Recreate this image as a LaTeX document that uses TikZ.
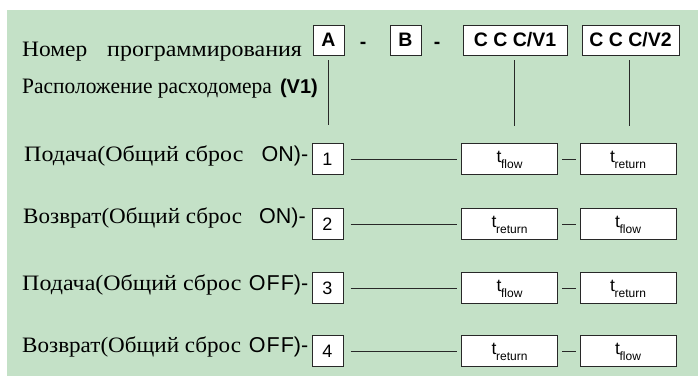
\documentclass[tikz,border=0pt]{standalone}
\usepackage{fontspec}
\setmainfont{Liberation Serif}
\newfontfamily\arial{Liberation Sans}
\definecolor{bggreen}{RGB}{196,225,199}
\definecolor{linegray}{RGB}{40,40,40}
\tikzset{
  serif/.style={inner sep=0pt, anchor=base west, font=\fontsize{22}{22}\selectfont},
  sans/.style={inner sep=0pt, anchor=base east, font=\arial\fontsize{21.5}{21.5}\selectfont},
  hbox/.style={draw=linegray, line width=1pt, fill=white, inner sep=0pt, minimum height=30pt, minimum width=31pt, font=\arial\bfseries\fontsize{19.5}{19.5}\selectfont},
  numbox/.style={draw=linegray, line width=1pt, fill=white, inner sep=0pt, minimum height=31pt, minimum width=31pt, font=\arial\fontsize{18}{18}\selectfont},
  tbox/.style={draw=linegray, line width=1pt, fill=white, inner sep=0pt, minimum height=31pt, minimum width=96pt, text height=19pt, text depth=12pt, font=\arial\fontsize{17.5}{17.5}\selectfont},
  dashtxt/.style={inner sep=0pt, anchor=base, font=\arial\bfseries\fontsize{19.5}{19.5}\selectfont},
  conn/.style={draw=linegray, line width=0.9pt},
}
\newcommand{\tsub}[1]{t\kern-0.3pt\raisebox{-6pt}{\fontsize{12}{12}\selectfont #1}}
\newcommand{\wide}[1]{\scalebox{1.09}[1]{#1}}
\newcommand{\widev}[1]{\scalebox{1.05}[1]{#1}}
\begin{document}
\begin{tikzpicture}[x=1pt,y=-1pt]
\useasboundingbox (0,0) rectangle (698,376);
\fill[bggreen] (7,10) rectangle (698,376);
% header
\node[serif] (title1) at (22,56.7) {\scalebox{1.065}[1]{Номер}};
\node[serif] (title2) at (107,56.7) {\wide{программирования}};
\node[hbox] (A) at (328.5,40) {A};
\node[dashtxt] (d1) at (363,48) {-};
\node[hbox] (B) at (405.5,40) {B};
\node[dashtxt] (d2) at (437,48) {-};
\node[hbox, minimum width=104pt] (C1) at (515,40) {C C C/V1};
\node[hbox, minimum width=97pt] (C2) at (630.5,40) {C C C/V2};
\node[serif] (loc) at (22,93.5) {\scalebox{0.975}[1]{Расположение расходомера}};
\node[sans, font=\arial\bfseries\fontsize{20}{20}\selectfont] (v1) at (318,93.5) {(V1)};
\coordinate (a1) at (328.5,60);
\coordinate (a2) at (328.5,125);
\coordinate (c1a) at (514,60);
\coordinate (c1b) at (514,126);
\coordinate (c2a) at (629,60);
\coordinate (c2b) at (629,126);
\draw[conn] (a1) -- (a2);
\draw[conn] (c1a) -- (c1b);
\draw[conn] (c2a) -- (c2b);
% row labels
\node[serif] (l1) at (24,161.7) {\wide{Подача(Общий сброс}};
\node[sans] (s1) at (308.5,161.7) {ON)-};
\node[serif] (l2) at (23,223.3) {\widev{Возврат(Общий сброс}};
\node[sans] (s2) at (306,223.3) {ON)-};
\node[serif] (l3) at (22,290) {\wide{Подача(Общий сброс}};
\node[sans] (s3) at (308.5,290) {O\kern1pt F\kern1pt F)-};
\node[serif] (l4) at (22,352.5) {\widev{Возврат(Общий сброс}};
\node[sans] (s4) at (308.5,352.5) {O\kern1pt F\kern1pt F)-};
% rows
\foreach \i/\y/\fa/\fb in {1/159/flow/return, 2/224/return/flow, 3/288/flow/return, 4/351/return/flow}{
  \node[numbox] (n\i) at (327.5,\y) {\i};
  \node[tbox] (p\i) at (509.5,\y) {\tsub{\fa}};
  \node[tbox] (q\i) at (628,\y) {\tsub{\fb}};
  \draw[conn, shorten <=7pt, shorten >=4pt] (n\i.east) -- (p\i.west);
  \draw[conn, shorten <=4pt, shorten >=4pt] (p\i.east) -- (q\i.west);
}
\end{tikzpicture}
\end{document}
